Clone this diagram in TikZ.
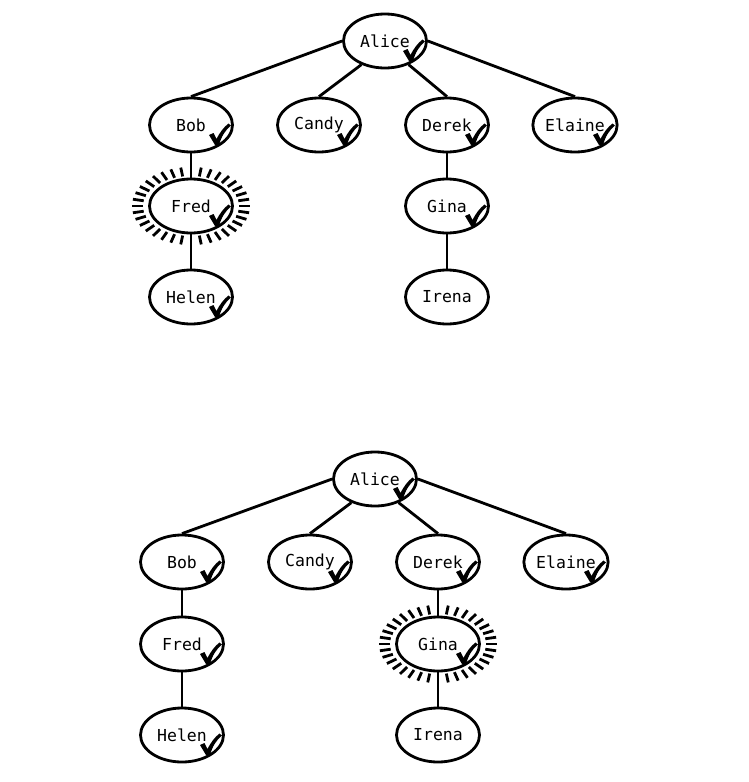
\documentclass[tikz,border=0pt]{standalone}
\usepackage{fontspec}
\setmonofont{DejaVu Sans Mono}
\usetikzlibrary{shapes.geometric}

\begin{document}
\begin{tikzpicture}[
        x=1pt, y=-1pt,
        font=\ttfamily\fontsize{16.5}{19}\selectfont,
        person/.style={draw=black, ellipse, line width=2.8pt, fill=white, minimum width=83pt, minimum height=54pt, inner sep=0pt},
        link/.style={draw=black, line width=2.8pt},
        ray/.style={draw=black, line width=2.8pt},
        checkmark/.pic={
            \fill[black] (18,10) -- (22.5,8) -- (25.5,14) .. controls (29,7) and (33,2) .. (37.5,-1.5)
                -- (40,0.5) .. controls (34.5,5) and (30.5,11) .. (28,20) -- (24,20) -- cycle;
        }
    ]
    \useasboundingbox (0,0) rectangle (749,782);

    % ================= Top tree =================
    \node[person] (alice) at (385,41) {Alice};
    \node[person] (bob) at (191,125) {Bob};
    \node[person] (candy) at (319,125) {Candy};
    \node[person] (derek) at (447,125) {Derek};
    \node[person] (elaine) at (575,125) {Elaine};
    \node[person] (fred) at (191,206) {Fred};
    \node[person] (gina) at (447,206) {Gina};
    \node[person] (helen) at (191,297) {Helen};
    \node[person] (irena) at (447,297) {Irena};

    % Edges
    \draw[link] (alice.west) -- (bob.north);
    \draw[link] (alice.225) -- (candy.north);
    \draw[link] (alice.315) -- (derek.north);
    \draw[link] (alice.east) -- (elaine.north);
    \draw[link] (bob.south) -- (fred.north);
    \draw[link] (fred.south) -- (helen.north);
    \draw[link] (derek.south) -- (gina.north);
    \draw[link] (gina.south) -- (irena.north);

    % Highlight on Fred
    \foreach \a in {0,10,...,350} {
        \draw[ray, shift={(fred.center)}] (\a:48 and 30) -- (\a:59 and 39);
    }

    % Ticks
    \foreach \n in {alice, bob, candy, derek, elaine, fred, gina, helen} {
        \pic at (\n) {checkmark};
    }

    % ================= Bottom tree =================
    \node[person] (alice2) at (375,479) {Alice};
    \node[person] (bob2) at (182,562) {Bob};
    \node[person] (candy2) at (310,562) {Candy};
    \node[person] (derek2) at (438,562) {Derek};
    \node[person] (elaine2) at (566,562) {Elaine};
    \node[person] (fred2) at (182,644) {Fred};
    \node[person] (gina2) at (438,644) {Gina};
    \node[person] (helen2) at (182,735) {Helen};
    \node[person] (irena2) at (438,735) {Irena};

    % Edges
    \draw[link] (alice2.west) -- (bob2.north);
    \draw[link] (alice2.225) -- (candy2.north);
    \draw[link] (alice2.315) -- (derek2.north);
    \draw[link] (alice2.east) -- (elaine2.north);
    \draw[link] (bob2.south) -- (fred2.north);
    \draw[link] (fred2.south) -- (helen2.north);
    \draw[link] (derek2.south) -- (gina2.north);
    \draw[link] (gina2.south) -- (irena2.north);

    % Highlight on Gina
    \foreach \a in {0,10,...,350} {
        \draw[ray, shift={(gina2.center)}] (\a:48 and 30) -- (\a:59 and 39);
    }

    % Ticks
    \foreach \n in {alice2, bob2, candy2, derek2, elaine2, fred2, gina2, helen2} {
        \pic at (\n) {checkmark};
    }

\end{tikzpicture}
\end{document}
